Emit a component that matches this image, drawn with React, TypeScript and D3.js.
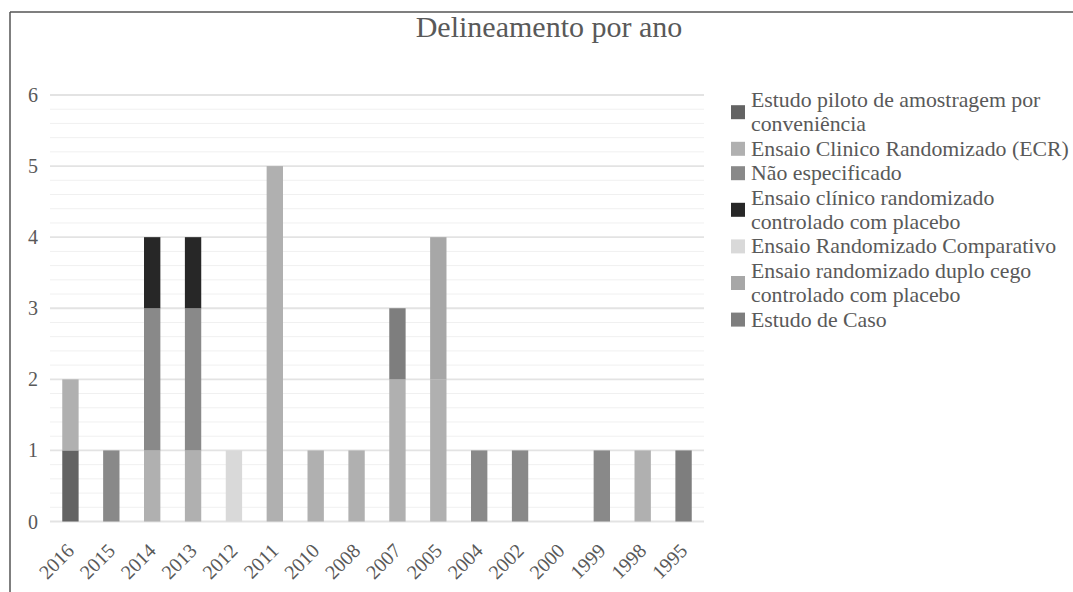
import * as d3 from 'd3';

const years = ['2016', '2015', '2014', '2013', '2012', '2011', '2010', '2008', '2007', '2005', '2004', '2002', '2000', '1999', '1998', '1995'];

const seriesNames = [
    'Estudo piloto de amostragem por conveniência',
    'Ensaio Clinico Randomizado (ECR)',
    'Não especificado',
    'Ensaio clínico randomizado controlado com placebo',
    'Ensaio Randomizado Comparativo',
    'Ensaio randomizado duplo cego controlado com placebo',
    'Estudo de Caso',
];

// legend lines as wrapped in the original
const legendLines = [
    ['Estudo piloto de amostragem por', 'conveniência'],
    ['Ensaio Clinico Randomizado (ECR)'],
    ['Não especificado'],
    ['Ensaio clínico randomizado', 'controlado com placebo'],
    ['Ensaio Randomizado Comparativo'],
    ['Ensaio randomizado duplo cego', 'controlado com placebo'],
    ['Estudo de Caso'],
];

const seriesColors = ['#636363', '#b0b0b0', '#898989', '#272727', '#d9d9d9', '#a7a7a7', '#7e7e7e'];

const piloto = [1, 0, 0, 0, 0, 0, 0, 0, 0, 0, 0, 0, 0, 0, 0, 0];
const ecr = [1, 0, 1, 1, 0, 5, 1, 1, 2, 2, 0, 0, 0, 0, 1, 0];
const naoEspecificado = [0, 1, 2, 2, 0, 0, 0, 0, 0, 0, 1, 1, 0, 1, 0, 0];
const placebo = [0, 0, 1, 1, 0, 0, 0, 0, 0, 0, 0, 0, 0, 0, 0, 0];
const comparativo = [0, 0, 0, 0, 1, 0, 0, 0, 0, 0, 0, 0, 0, 0, 0, 0];
const duploCego = [0, 0, 0, 0, 0, 0, 0, 0, 0, 2, 0, 0, 0, 0, 0, 0];
const estudoCaso = [0, 0, 0, 0, 0, 0, 0, 0, 1, 0, 0, 0, 0, 0, 0, 1];

const yTicks = [0, 1, 2, 3, 4, 5, 6];

const W = 1073;
const H = 592;
const FONT = '"Liberation Serif", "Times New Roman", serif';

export default function App() {
    const seriesValues = [piloto, ecr, naoEspecificado, placebo, comparativo, duploCego, estudoCaso];
    const rows = years.map((year, i) => {
        const row: Record<string, any> = { year };
        seriesNames.forEach((name, s) => { row[name] = seriesValues[s][i]; });
        return row;
    });

    const stacked = d3.stack<Record<string, any>>().keys(seriesNames)(rows);

    const x = d3.scaleBand<string>()
        .domain(years)
        .range([50, 704])
        .paddingInner(0.6)
        .paddingOuter(0.3);

    const y = d3.scaleLinear().domain([0, 6]).range([521.5, 95]);

    const minorTicks = d3.range(0, 6.001, 0.2).filter(v => Math.abs(v - Math.round(v)) > 0.01);

    const lineH = 24.4;
    let lineIdx = 0;
    const legendItems = legendLines.map((lines, i) => {
        const first = lineIdx;
        lineIdx += lines.length;
        return { lines, first, color: seriesColors[i] };
    });

    return (
        <svg width={W} height={H} style={{ position: 'absolute', left: 0, top: 0, background: '#fff' }} fontFamily={FONT}>
            {/* frame */}
            <line x1={10} y1={12} x2={W} y2={12} stroke="#555" strokeWidth={1.5} />
            <line x1={10} y1={12} x2={10} y2={H} stroke="#555" strokeWidth={1.5} />

            <text x={549} y={37} textAnchor="middle" fontSize={30} fill="#595959">Delineamento por ano</text>

            {/* gridlines */}
            {minorTicks.map(v => (
                <line key={'m' + v} x1={50} x2={704} y1={y(v)} y2={y(v)} stroke="#f0f0f0" strokeWidth={1} />
            ))}
            {yTicks.map(v => (
                <line key={'g' + v} x1={50} x2={704} y1={y(v)} y2={y(v)} stroke="#e3e3e3" strokeWidth={1.8} />
            ))}
            {yTicks.map(v => (
                <text key={'t' + v} x={38} y={y(v) + 7} textAnchor="end" fontSize={20} fill="#595959">{v}</text>
            ))}

            {/* bars */}
            {stacked.map((layer, s) => (
                <g key={layer.key} fill={seriesColors[s]}>
                    {layer.map((d, i) => (d[1] - d[0] > 0 ? (
                        <rect key={i} x={x(years[i])} width={x.bandwidth()} y={y(d[1])} height={y(d[0]) - y(d[1])} />
                    ) : null))}
                </g>
            ))}

            {/* x labels */}
            {years.map(yr => {
                const cx = (x(yr) as number) + x.bandwidth() / 2 + 5;
                return (
                    <text key={yr} transform={`translate(${cx},${552}) rotate(-45)`} textAnchor="end" fontSize={20} fill="#595959">{yr}</text>
                );
            })}

            {/* legend */}
            {legendItems.map((item, i) => {
                const centers = item.lines.map((_, k) => 100 + (item.first + k) * lineH);
                const mid = d3.mean(centers) as number;
                return (
                    <g key={i}>
                        <rect x={731} y={mid - 7} width={14} height={14} fill={item.color} />
                        {item.lines.map((t, k) => (
                            <text key={k} x={751} y={centers[k] + 7} fontSize={21.8} fill="#595959">{t}</text>
                        ))}
                    </g>
                );
            })}
        </svg>
    );
}
